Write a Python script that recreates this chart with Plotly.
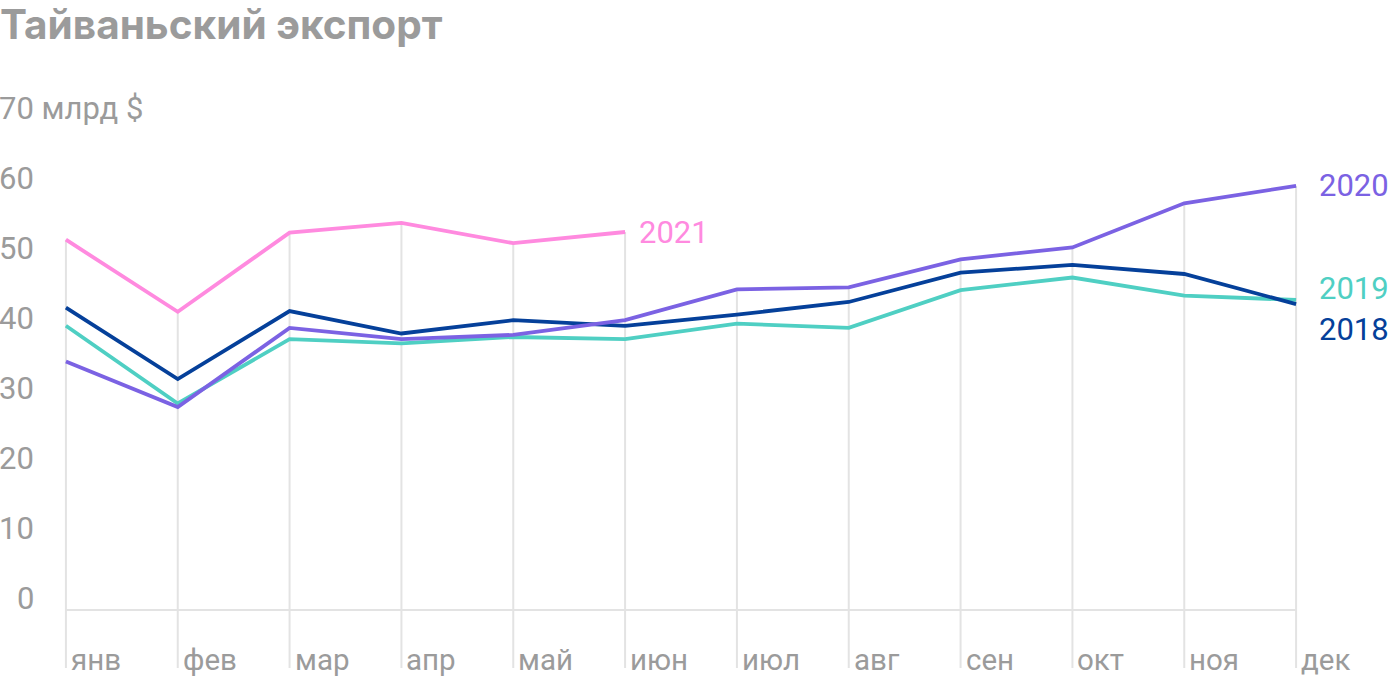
import plotly.graph_objects as go

months = ["янв", "фев", "мар", "апр", "май", "июн", "июл", "авг", "сен", "окт", "ноя", "дек"]
y2018 = [43.2, 33.0, 42.7, 39.5, 41.4, 40.6, 42.2, 44.0, 48.2, 49.3, 48.0, 43.7]
y2019 = [40.6, 29.5, 38.7, 38.1, 39.0, 38.7, 40.9, 40.3, 45.7, 47.5, 44.9, 44.3]
y2020 = [35.5, 29.0, 40.3, 38.7, 39.3, 41.4, 45.8, 46.1, 50.1, 51.8, 58.1, 60.6]
y2021 = [52.9, 42.6, 53.9, 55.3, 52.4, 54.0]
yticks = [0, 10, 20, 30, 40, 50, 60]
unit_label = "70 млрд $"
title = "Тайваньский экспорт"

series = [
    ("2019", y2019, "#4FCFC3", -11, 21),
    ("2018", y2018, "#05409A", 25, 21),
    ("2020", y2020, "#7B62E3", 0, 21),
    ("2021", y2021, "#FF8ADF", 0, 12),
]

GRID = "#e3e3e3"
TXT = "#9b9b9b"
FONT = "Roboto"
x_idx = list(range(len(months)))

fig = go.Figure()

# drop lines from the highest value of each month to below the baseline
drop_bottom = -8.3
dx, dy = [], []
for i in x_idx:
    vals = [s[1][i] for s in series if i < len(s[1])]
    dx += [i, i, None]
    dy += [max(vals), drop_bottom, None]
fig.add_trace(go.Scatter(x=dx, y=dy, mode="lines", line=dict(color=GRID, width=2),
                         hoverinfo="skip", showlegend=False))
# baseline
fig.add_trace(go.Scatter(x=[x_idx[0], x_idx[-1]], y=[0, 0], mode="lines",
                         line=dict(color=GRID, width=2), hoverinfo="skip", showlegend=False))

for name, vals, color, ysh, xsh in series:
    xs = x_idx[:len(vals)]
    fig.add_trace(go.Scatter(x=xs, y=vals, mode="lines", name=name,
                             line=dict(color=color, width=3.8), showlegend=False))
    fig.add_annotation(x=xs[-1], y=vals[-1], xref="x", yref="y", text=name,
                       showarrow=False, xanchor="left", yanchor="middle",
                       xshift=xsh, yshift=-ysh, font=dict(family=FONT, size=31, color=color))

for t in yticks:
    fig.add_annotation(x=0, y=t, xref="x", yref="y", text=str(t), showarrow=False,
                       xanchor="right", yanchor="bottom", xshift=-30, yshift=-9,
                       font=dict(family=FONT, size=31, color=TXT))
fig.add_annotation(x=0, y=70, xref="x", yref="y", text=unit_label, showarrow=False,
                   xanchor="left", yanchor="bottom", xshift=-69, yshift=-9,
                   font=dict(family=FONT, size=31, color=TXT))

for i, m in enumerate(months):
    fig.add_annotation(x=i, y=-7.1, xref="x", yref="y", text=m, showarrow=False,
                       xanchor="left", yanchor="middle", xshift=3,
                       font=dict(family=FONT, size=29.5, color=TXT))

fig.update_layout(
    width=1400, height=680,
    margin=dict(l=10.1, r=48.1, t=85, b=0),
    paper_bgcolor="white", plot_bgcolor="white",
    title=dict(text="<b>" + title + "</b>", x=0, xref="container", xanchor="left",
               y=0.963, yref="container", yanchor="middle", pad=dict(l=0),
               font=dict(family="Inter", size=40.5, color=TXT)),
    xaxis=dict(range=[-0.5, 11.5], visible=False, fixedrange=True),
    yaxis=dict(range=[-10, 75], visible=False, fixedrange=True),
)
fig.write_html("out.html")
